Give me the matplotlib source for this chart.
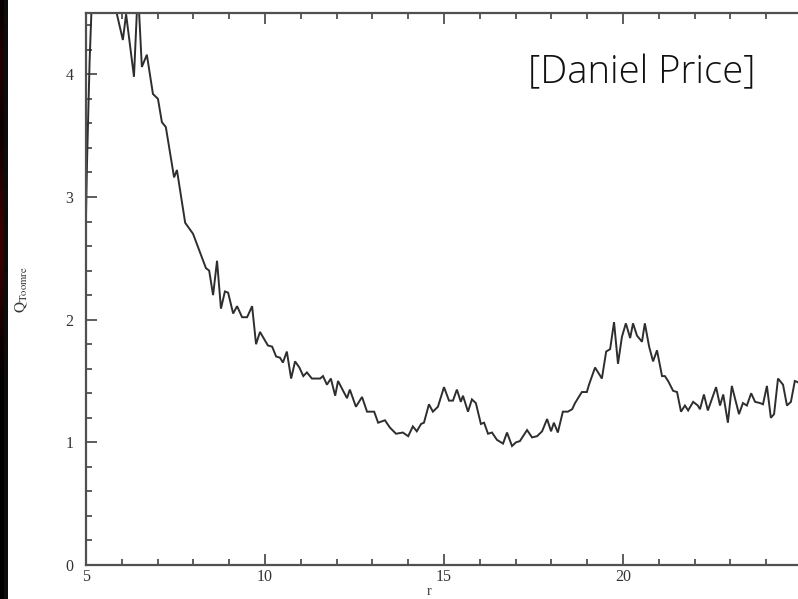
import numpy as np
import matplotlib
matplotlib.use("Agg")
import matplotlib.pyplot as plt
from matplotlib.ticker import MultipleLocator

# ---- data ----
r = [5.00, 5.03, 5.10, 5.20, 5.40, 5.60, 5.84, 6.03, 6.12, 6.34, 6.45, 6.56, 6.70,
     6.87, 7.01, 7.12, 7.23, 7.46, 7.54, 7.77, 7.99, 8.35, 8.44, 8.55, 8.66, 8.77,
     8.88, 8.97, 9.11, 9.22, 9.36, 9.50, 9.64, 9.75, 9.86, 10.08, 10.20, 10.31,
     10.42, 10.50, 10.61, 10.73, 10.84, 10.96, 11.07, 11.17, 11.31, 11.54, 11.62,
     11.73, 11.84, 11.96, 12.04, 12.29, 12.37, 12.54, 12.71, 12.85, 12.96, 13.05,
     13.16, 13.35, 13.49, 13.66, 13.85, 14.00, 14.13, 14.24, 14.36, 14.44, 14.58,
     14.69, 14.83, 15.00, 15.14, 15.25, 15.36, 15.47, 15.53, 15.67, 15.78, 15.89,
     16.03, 16.12, 16.23, 16.34, 16.48, 16.65, 16.76, 16.90, 17.01, 17.12, 17.32,
     17.46, 17.60, 17.74, 17.88, 17.99, 18.07, 18.18, 18.32, 18.46, 18.58, 18.66,
     18.85, 18.99, 19.05, 19.22, 19.41, 19.53, 19.64, 19.75, 19.86, 19.97, 20.08,
     20.20, 20.28, 20.39, 20.53, 20.61, 20.73, 20.84, 20.95, 21.09, 21.17, 21.26,
     21.40, 21.51, 21.62, 21.73, 21.82, 21.96, 22.09, 22.15, 22.26, 22.37, 22.60,
     22.71, 22.80, 22.93, 23.04, 23.24, 23.35, 23.46, 23.58, 23.69, 23.83, 23.91,
     24.02, 24.13, 24.22, 24.33, 24.47, 24.58, 24.69, 24.80, 24.89, 25.00, 25.10]
q_toomre = [2.85, 3.30, 4.10, 4.90, 5.20, 5.00, 4.52, 4.28, 4.49, 3.98, 4.70, 4.06, 4.16,
            3.84, 3.80, 3.61, 3.57, 3.16, 3.22, 2.79, 2.70, 2.42, 2.40, 2.20, 2.48, 2.09,
            2.23, 2.22, 2.05, 2.11, 2.02, 2.02, 2.11, 1.80, 1.90, 1.79, 1.78, 1.70,
            1.69, 1.65, 1.74, 1.52, 1.66, 1.61, 1.54, 1.57, 1.52, 1.52, 1.54,
            1.47, 1.52, 1.38, 1.50, 1.36, 1.43, 1.29, 1.37, 1.25, 1.25, 1.25,
            1.16, 1.18, 1.12, 1.07, 1.08, 1.05, 1.13, 1.09, 1.15, 1.16, 1.31,
            1.25, 1.29, 1.45, 1.34, 1.34, 1.43, 1.33, 1.38, 1.25, 1.35, 1.32,
            1.15, 1.16, 1.07, 1.08, 1.02, 0.99, 1.08, 0.97, 1.00, 1.01, 1.10,
            1.04, 1.05, 1.09, 1.19, 1.09, 1.16, 1.08, 1.25, 1.25, 1.27, 1.32,
            1.41, 1.41, 1.47, 1.61, 1.52, 1.74, 1.76, 1.98, 1.64, 1.86, 1.97,
            1.85, 1.97, 1.87, 1.82, 1.97, 1.78, 1.66, 1.75, 1.54, 1.54, 1.50,
            1.42, 1.41, 1.25, 1.30, 1.26, 1.33, 1.30, 1.27, 1.39, 1.26, 1.45,
            1.30, 1.39, 1.16, 1.46, 1.23, 1.32, 1.30, 1.40, 1.33, 1.32, 1.31,
            1.46, 1.20, 1.23, 1.52, 1.47, 1.30, 1.33, 1.50, 1.49, 1.45, 1.40]
x_ticks = [5, 10, 15, 20]
y_ticks = [0, 1, 2, 3, 4]
credit = "[Daniel Price]"

W, H = 798, 599
plt.rcParams['mathtext.fontset'] = 'stix'
fig = plt.figure(figsize=(W / 100, H / 100), dpi=100)
fig.patch.set_facecolor('white')

# dark strip at the left edge (photo border)
strip = fig.add_axes([0, 0, 8 / W, 1])
grad = np.zeros((60, 2, 3))
yy = np.linspace(0, 1, 60)
grad[:, 0, 0] = 0.22 * np.exp(-((yy - 0.4) / 0.15) ** 2) + 0.12 * np.exp(-((yy - 0.1) / 0.08) ** 2)
grad[:, 1, :] = 0.05
strip.imshow(grad, aspect='auto', origin='upper', extent=[0, 1, 0, 1])
strip.axis('off')

left, right_px, top_px, bot_px = 86, 812, 13, 565
xmax = 5 + (right_px - left) / 35.8
ax = fig.add_axes([left / W, 1 - bot_px / H, (right_px - left) / W, (bot_px - top_px) / H])
ax.plot(r, q_toomre, color='#2e2e2e', lw=1.4, solid_joinstyle='miter')
ax.set_xlim(5, xmax)
ax.set_ylim(0, 4.5)

spine_c = '#505050'
for s in ax.spines.values():
    s.set_color(spine_c)
    s.set_linewidth(1.6)

ax.set_xticks(x_ticks)
ax.set_yticks(y_ticks)
ax.xaxis.set_minor_locator(MultipleLocator(1))
ax.yaxis.set_minor_locator(MultipleLocator(0.2))
ax.tick_params(which='both', direction='in', top=True, right=True, colors=spine_c,
               labelcolor='#333333', width=1.3)
ax.tick_params(which='major', length=8)
ax.tick_params(which='minor', length=4)
ax.tick_params(axis='x', pad=3)
ax.tick_params(axis='y', pad=9)
for lab in ax.get_xticklabels() + ax.get_yticklabels():
    lab.set_fontfamily('Liberation Serif')
    lab.set_fontsize(11.5)

ax.set_xlabel('r', fontfamily='Liberation Serif', fontsize=10, color='#333333', labelpad=1)
ax.xaxis.set_label_coords((429 - left) / (right_px - left), -0.036)
fig.text(22 / W, 1 - 290 / H, r'$\mathrm{Q}_{\mathrm{Toomre}}$', rotation=90,
         ha='center', va='center', fontsize=11, color='#333333')

fig.text(528 / W, 1 - 83 / H, credit, ha='left', va='baseline', fontsize=27.5,
         fontfamily='Open Sans', fontweight='light', color='#111111')

fig.savefig('out.png', dpi=100, facecolor='white')
